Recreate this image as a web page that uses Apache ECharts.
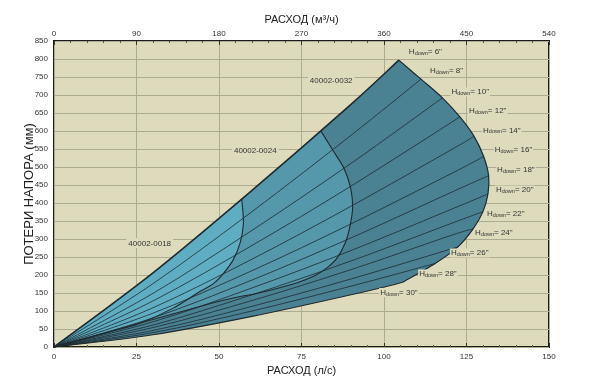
<!DOCTYPE html>
<html><head><meta charset="utf-8">
<script src="https://cdn.jsdelivr.net/npm/echarts@6/dist/echarts.min.js"></script>
<style>html,body{margin:0;padding:0;background:#fff}#c{width:600px;height:388px}</style>
</head><body><div id="c"></div>
<script>
// ---- data ----
const hLabels = ['6"','8"','10"','12"','14"','16"','18"','20"','22"','24"','26"','28"','30"'];
// sample points of each H_down curve (flow l/s, head loss mm)
const curveX = [
  [0,30,60,90,104.5],
  [0,30,60,90,111.2],
  [0,30,60,90,117.7],
  [0,30,60,90,123.0],
  [0,30,60,90,120,127.3],
  [0,30,60,90,120,130.2],
  [0,30,60,90,120,131.7],
  [0,30,60,90,120,131.5],
  [0,30,60,90,120,130.0],
  [0,30,60,90,120,127.0],
  [0,30,60,90,122.4],
  [0,30,60,90,115.5],
  [0,30,60,90,105.5]
];
const curveY = [
  [0,206,435,674,797],
  [0,176,376,588,744],
  [0,149,324,510,692],
  [0,128,282,447,639],
  [0,109,244,391,546,585],
  [0,94,212,342,480,529],
  [0,81,186,303,428,476],
  [0,70,164,268,381,425],
  [0,61,145,239,342,376],
  [0,54,129,215,309,328],
  [0,46,113,189,278],
  [0,40,100,169,232],
  [0,34,85,145,179]
];
// limit curves of the smaller models
const arc0018X = [56.9,57.4,56.4,54.3,51.3,48.3,44.2,36.1,26.1,19.0,0];
const arc0018Y = [410,344,289,242,204,176,154,108,66,47,0];
const arc0024X = [80.8,84.6,88.0,89.9,90.5,89.7,88.2,85.7,82.6,78.8,73.5,62,48,0];
const arc0024Y = [601,545,494,441,388,336,288,246,219,197,178,150,122,0];
const modelNames = ['40002-0018','40002-0024','40002-0032'];
const flowLsMax = 150, flowM3Max = 540, lossMax = 850;

// ---- styling ----
const FONT = '"Liberation Sans", Arial, sans-serif';
const PLOT_BG = '#dedbbc';
const fillColors = ['#5fadc3', '#5597ab', '#4a8294'];
const lineColor = '#1e2a2f';
// label placement (pixel offsets from curve end)
const labelOffsets = [[9,-8],[8,-8],[8,-6],[8,-6],[8,-6],[10,-6.5],[7.5,-5.5],[7,-4],[3,2],[1,4],[-8,6],[-17,10.5],[-23,10]];
const modelLabelAnchors = [[29,288],[61,545],[84,739]];

function pts(xs, ys, api) { return xs.map((x, i) => api.coord([x, ys[i]])); }
function cr(p, move) {
  let d = move ? 'M' + p[0][0] + ' ' + p[0][1] : '';
  for (let i = 0; i < p.length - 1; i++) {
    const p0 = p[i - 1] || p[i], p1 = p[i], p2 = p[i + 1], p3 = p[i + 2] || p[i + 1];
    const c1 = [p1[0] + (p2[0] - p0[0]) / 6, p1[1] + (p2[1] - p0[1]) / 6];
    const c2 = [p2[0] - (p3[0] - p1[0]) / 6, p2[1] - (p3[1] - p1[1]) / 6];
    d += ' C' + c1[0] + ' ' + c1[1] + ' ' + c2[0] + ' ' + c2[1] + ' ' + p2[0] + ' ' + p2[1];
  }
  return d;
}
function subCurve(xs, ys, xEnd, yEnd, api) {
  const ox = [], oy = [];
  xs.forEach((x, i) => { if (x < xEnd - 0.5) { ox.push(x); oy.push(ys[i]); } });
  ox.push(xEnd); oy.push(yEnd);
  return pts(ox, oy, api);
}

const chart = echarts.init(document.getElementById('c'), null, {renderer: 'canvas'});
const axisLabelStyle = {fontSize: 8, color: '#333', fontFamily: FONT};
const nameStyle = {fontSize: 11, color: '#222', fontFamily: FONT};

chart.setOption({
  animation: false,
  backgroundColor: '#ffffff',
  grid: {left: 54, right: 51, top: 41, bottom: 41, show: true, backgroundColor: PLOT_BG, borderColor: '#1b1b1b', borderWidth: 2},
  xAxis: [
    {type: 'value', min: 0, max: flowLsMax, interval: 25, position: 'bottom',
     name: 'РАСХОД (л/с)', nameLocation: 'middle', nameGap: 17, nameTextStyle: nameStyle,
     axisLine: {show: false}, axisTick: {show: true, inside: true, length: 4, lineStyle: {color: '#333'}},
     minorTick: {show: true, splitNumber: 5, length: 2, lineStyle: {color: '#555'}},
     axisLabel: Object.assign({margin: 6}, axisLabelStyle),
     splitLine: {show: true, lineStyle: {color: '#aeab93', width: 1}}},
    {type: 'value', min: 0, max: flowM3Max, interval: 90, position: 'top',
     name: 'РАСХОД (м³/ч)', nameLocation: 'middle', nameGap: 14, nameTextStyle: nameStyle,
     axisLine: {show: false}, axisTick: {show: true, inside: true, length: 4, lineStyle: {color: '#333'}},
     minorTick: {show: true, splitNumber: 5, length: 2, lineStyle: {color: '#555'}},
     axisLabel: Object.assign({margin: 3}, axisLabelStyle),
     splitLine: {show: false}}
  ],
  yAxis: {type: 'value', min: 0, max: lossMax, interval: 50,
    name: 'ПОТЕРИ НАПОРА (мм)', nameLocation: 'middle', nameGap: 18, nameRotate: 90, nameMoveOverlap: false,
    nameTextStyle: Object.assign({}, nameStyle, {fontSize: 13}),
    axisLine: {show: false}, axisTick: {show: false},
    axisLabel: Object.assign({margin: 6}, axisLabelStyle),
    splitLine: {show: true, lineStyle: {color: '#aeab93', width: 1}}},
  series: [{
    type: 'custom', coordinateSystem: 'cartesian2d', xAxisIndex: 0, yAxisIndex: 0,
    silent: true, clip: false, data: [[0, 0]],
    renderItem: function (params, api) {
      const children = [];
      const n = curveX.length;
      const curves = curveX.map((xs, i) => pts(xs, curveY[i], api));
      const ends = curveX.map((xs, i) => api.coord([xs[xs.length - 1], curveY[i][curveY[i].length - 1]]));
      // outer region (0032)
      let d = cr(curves[0], true) + cr(ends, false) + cr(curves[n - 1].slice().reverse(), false) + ' Z';
      children.push({type: 'path', shape: {pathData: d}, style: {fill: fillColors[2], stroke: null}});
      // 0024 region
      const a2 = pts(arc0024X, arc0024Y, api);
      d = cr(subCurve(curveX[0], curveY[0], arc0024X[0], arc0024Y[0], api), true) + cr(a2, false) + ' Z';
      children.push({type: 'path', shape: {pathData: d}, style: {fill: fillColors[1], stroke: null}});
      // 0018 region
      const a1 = pts(arc0018X, arc0018Y, api);
      d = cr(subCurve(curveX[0], curveY[0], arc0018X[0], arc0018Y[0], api), true) + cr(a1, false) + ' Z';
      children.push({type: 'path', shape: {pathData: d}, style: {fill: fillColors[0], stroke: null}});
      // H curves
      curves.forEach((c, i) => {
        children.push({type: 'path', shape: {pathData: cr(c, true)},
          style: {fill: null, stroke: lineColor, lineWidth: (i === 0 ? 1.6 : (i === n - 1 ? 1.1 : 0.8))}});
      });
      // limit arcs
      [a1, a2].forEach(a => children.push({type: 'path', shape: {pathData: cr(a, true)},
        style: {fill: null, stroke: lineColor, lineWidth: 1.1}}));
      children.push({type: 'path', shape: {pathData: cr(ends, true)}, style: {fill: null, stroke: lineColor, lineWidth: 1.2}});
      // H labels
      ends.forEach((e, i) => {
        children.push({type: 'text', x: e[0] + labelOffsets[i][0], y: e[1] + labelOffsets[i][1],
          style: {text: '{a|H}{b|down}{a|= ' + hLabels[i] + '}', align: 'left', verticalAlign: 'middle',
            backgroundColor: PLOT_BG, padding: [0, 1, 0, 1],
            rich: {a: {fontSize: 8, fontFamily: FONT, fill: '#333', lineHeight: 9},
                   b: {fontSize: 5.5, fontFamily: FONT, fill: '#333', lineHeight: 5, verticalAlign: 'bottom'}}}});
      });
      // model labels
      modelNames.forEach((m, i) => {
        const p = api.coord(modelLabelAnchors[i]);
        children.push({type: 'text', x: p[0], y: p[1],
          style: {text: m, align: 'center', verticalAlign: 'middle', font: '8px ' + FONT, fill: '#333',
            backgroundColor: PLOT_BG, padding: [1, 2, 1, 2]}});
      });
      return {type: 'group', children: children};
    }
  }]
});
</script>
</body></html>
